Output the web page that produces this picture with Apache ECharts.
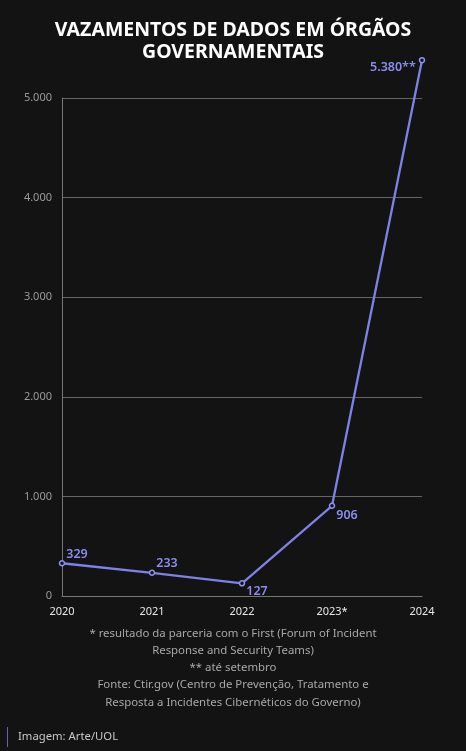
<!DOCTYPE html>
<html><head><meta charset="utf-8">
<style>html,body{margin:0;padding:0;background:#131313;}#c{width:466px;height:751px;}</style>
<script src="https://cdn.jsdelivr.net/npm/echarts@6/dist/echarts.min.js"></script>
</head><body><div id="c"></div>
<script>
const categories = ['2020','2021','2022','2023*','2024'];
const values = [329, 233, 127, 906, 5380];
const valueLabels = ['329','233','127','906','5.380**'];
const footnotes = [
  '* resultado da parceria com o First (Forum of Incident',
  'Response and Security Teams)',
  '** até setembro',
  'Fonte: Ctir.gov (Centro de Prevenção, Tratamento e',
  'Resposta a Incidentes Cibernéticos do Governo)'
];
const labelPos = ['right','right','right','right','left'];
const labelOff = [[-4,-9],[-4,-9],[-4,8],[-4,10],[2,7]];

const chart = echarts.init(document.getElementById('c'));
chart.setOption({
  backgroundColor: '#131313',
  animation: false,
  title: {
    text: 'VAZAMENTOS DE DADOS EM ÓRGÃOS\nGOVERNAMENTAIS',
    left: 'center', top: 14,
    textStyle: {color:'#fff', fontFamily:'Noto Sans', fontWeight:'bold', fontSize:19.5, lineHeight:22}
  },
  grid: {left: 62, right: 44, top: 98, bottom: 155},
  xAxis: {
    type: 'category', data: categories, boundaryGap: false,
    axisLine: {lineStyle: {color:'#777'}},
    axisTick: {show:false},
    axisLabel: {color:'#e8e8e8', fontFamily:'Noto Sans', fontSize:11, margin:10}
  },
  yAxis: {
    type: 'value', min: 0, max: 5000, interval: 1000,
    axisLine: {show:true, lineStyle: {color:'#777'}},
    axisTick: {show:false},
    splitLine: {lineStyle: {color:'#666'}},
    axisLabel: {color:'#9a9a9a', fontFamily:'Noto Sans', fontSize:11, margin:10,
      formatter: v => v === 0 ? '0' : String(v/1000) + '.000'}
  },
  series: [{
    type: 'line', clip: false,
    data: values.map((v,i) => ({
      value: v,
      label: {show:true, position: labelPos[i], offset: labelOff[i], formatter: valueLabels[i]}
    })),
    symbol: 'circle', symbolSize: 5,
    lineStyle: {color:'#8080ea', width: 2.3},
    itemStyle: {color:'#131313', borderColor:'#9090f2', borderWidth:1.5},
    label: {color:'#8c8cf0', fontFamily:'Noto Sans', fontWeight:600, fontSize:12.5}
  }],
  graphic: [
    ...footnotes.map((t,i) => ({
      type:'text', left:'center', top: 628 + i*17.2,
      style: {text: t, fill:'#a8a8a8', font:'11.4px "Noto Sans"'}
    })),
    {type:'rect', shape:{x:7, y:727, width:1, height:20}, style:{fill:'#6a5fb0'}},
    {type:'text', left:18, top:731, style:{text:'Imagem: Arte/UOL', fill:'#c8c8c8', font:'11.3px "Noto Sans"'}}
  ]
});
</script></body></html>
